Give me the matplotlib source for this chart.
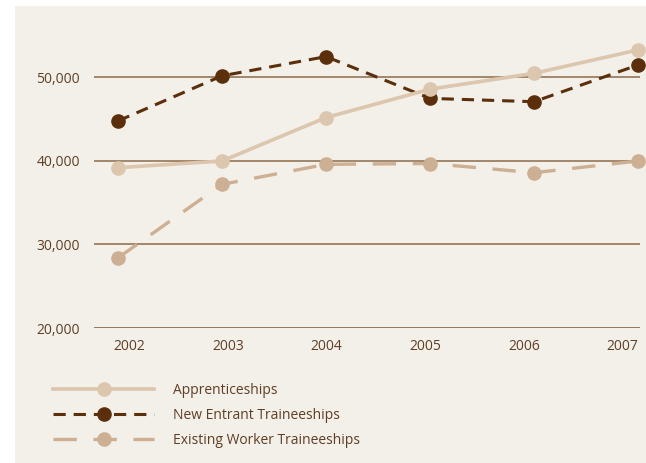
import matplotlib
matplotlib.use("Agg")
import matplotlib.pyplot as plt
from matplotlib.patches import Rectangle

plt.rcParams['font.family'] = ['Open Sans', 'DejaVu Sans']

years = [2002, 2003, 2004, 2005, 2006, 2007]
apprenticeships = [39200, 40000, 45200, 48600, 50500, 53300]
new_entrant = [44800, 50200, 52500, 47500, 47100, 51500]
existing_worker = [28400, 37200, 39600, 39700, 38600, 40000]
yticks = [20000, 30000, 40000, 50000]

text_col = '#5e3f24'
grid_col = '#8c6a4b'
bg_col = '#f3efe9'

fig = plt.figure(figsize=(6.46, 4.63), dpi=100)
fig.patch.set_facecolor('white')
# beige panel behind everything
fig.add_artist(Rectangle((15 / 646, 0), 1 - 15 / 646, 457 / 463,
                         transform=fig.transFigure, facecolor=bg_col,
                         edgecolor='none', zorder=0))

ax = fig.add_axes([94 / 646, 135 / 463, 546 / 646, 298 / 463])
ax.set_facecolor('none')
ax.set_xlim(2002 - 24 / 104, 2007 + 2 / 104)
ax.set_ylim(20000, 20000 + 298 / 83.5 * 10000)

for v in yticks:
    ax.axhline(v, color=grid_col, lw=2.0 if v == 20000 else 1.1, zorder=1)

ew, = ax.plot(years, existing_worker, color='#cdb093', lw=2.4,
              dashes=(7, 5), marker='o', ms=9.5, clip_on=False, zorder=3)
ne, = ax.plot(years, new_entrant, color='#5b2f0c', lw=2.2,
              dashes=(4, 2.6), marker='o', ms=9.5, clip_on=False, zorder=4)
ap, = ax.plot(years, apprenticeships, color='#dcc6ad', lw=2.6,
              marker='o', ms=9.5, clip_on=False, zorder=5)

# year labels sit on a slightly narrower spacing than the points
label_pos = [2002 + (11.5 + 98.6 * i) / 104 for i in range(len(years))]
ax.set_xticks(label_pos)
ax.set_xticklabels([str(y) for y in years])
ax.set_yticks(yticks)
ax.set_yticklabels([f'{v:,}' for v in yticks])
ax.tick_params(length=0, labelsize=10, colors=text_col)
ax.tick_params(axis='y', pad=10)
ax.tick_params(axis='x', pad=8)
for s in ax.spines.values():
    s.set_visible(False)

leg = fig.legend([ap, ne, ew],
                 ['Apprenticeships', 'New Entrant Traineeships',
                  'Existing Worker Traineeships'],
                 loc='upper left', bbox_to_anchor=(53 / 646, 1 - 383 / 463),
                 frameon=False, fontsize=10, handlelength=7.3,
                 handletextpad=1.35, labelspacing=0.72, borderpad=0,
                 borderaxespad=0, markerscale=1.0)
for t in leg.get_texts():
    t.set_color(text_col)

fig.savefig('out.png', dpi=100, facecolor=fig.get_facecolor())
